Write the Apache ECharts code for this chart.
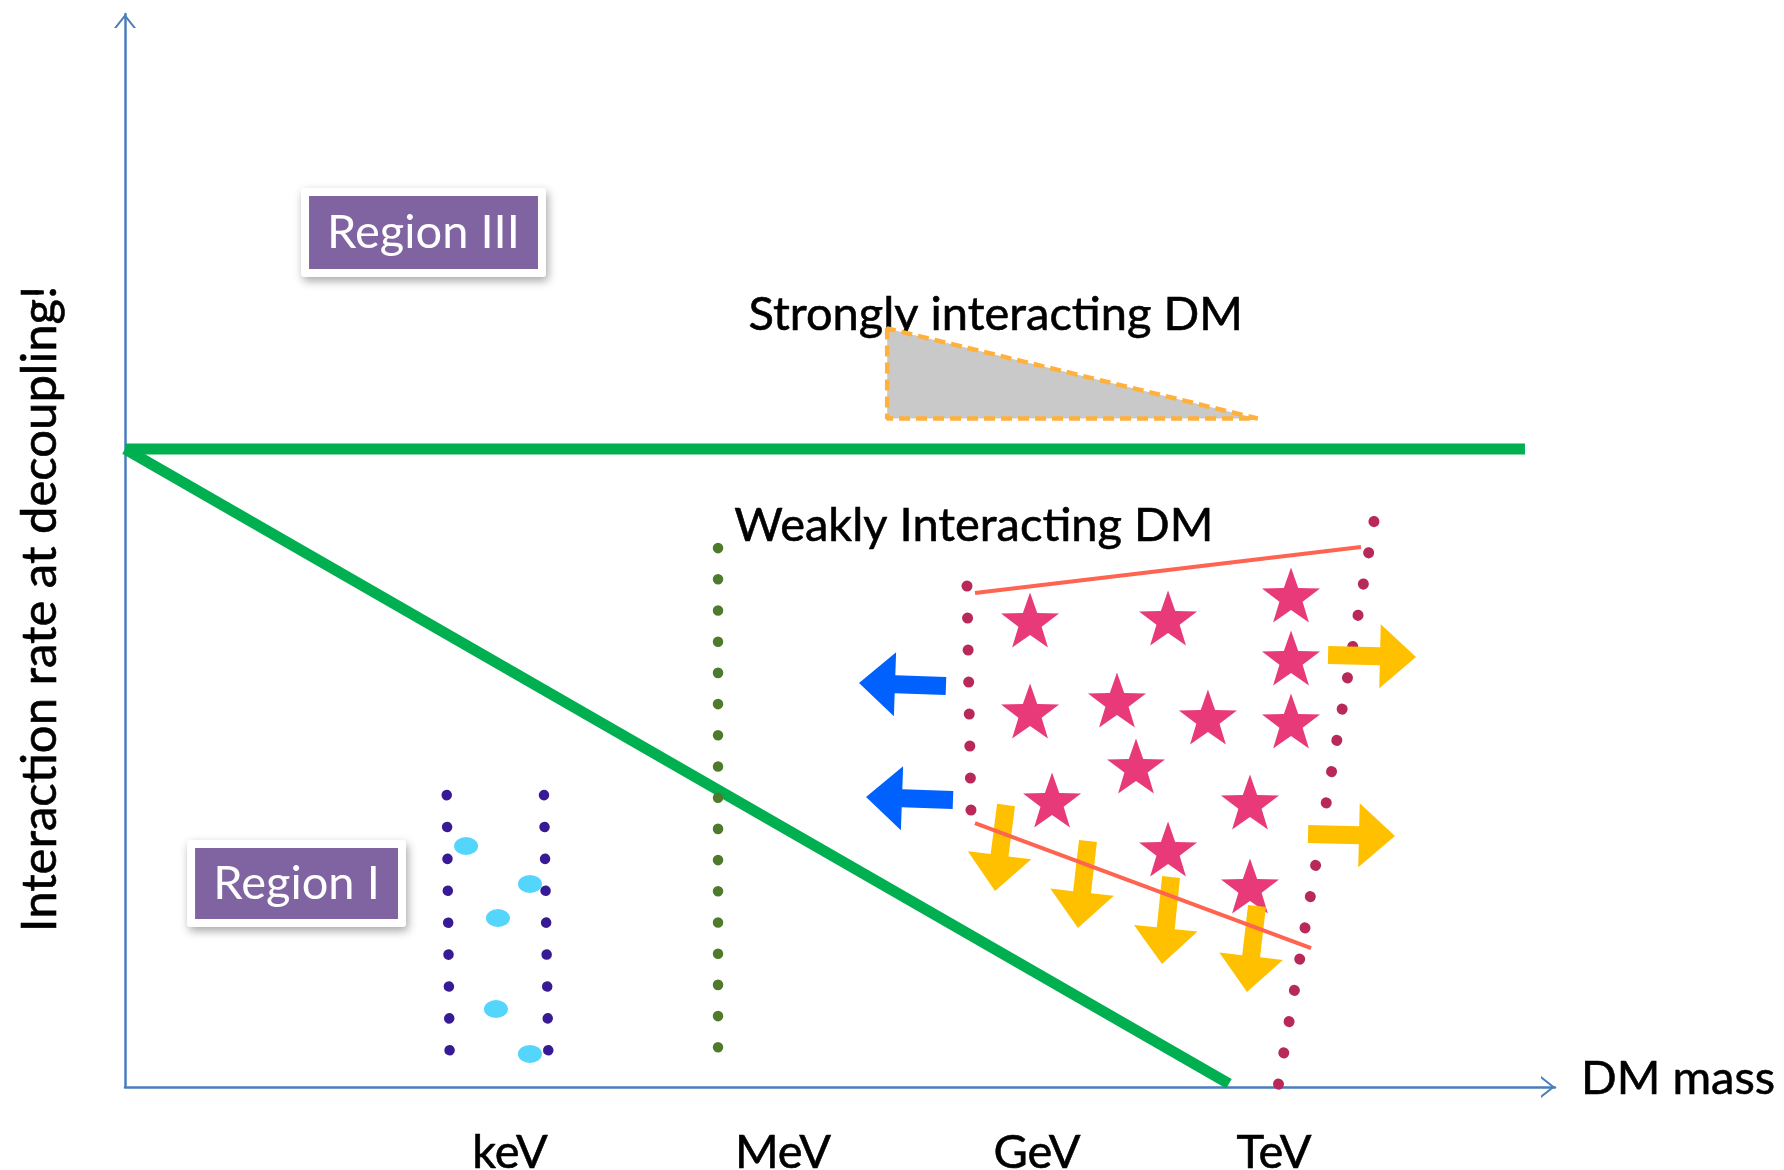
<!DOCTYPE html>
<html><head><meta charset="utf-8">
<script src="https://cdn.jsdelivr.net/npm/echarts@6/dist/echarts.min.js"></script>
<style>html,body{margin:0;padding:0;background:#fff}#c{width:1784px;height:1170px}</style>
</head><body><div id="c"></div>
<script>
// Schematic units: x = DM mass (0..100), y = interaction rate at decoupling (0..100)
const massTickValues = [26.92, 46.01, 63.78, 80.35];
const massTickLabels = ['keV', 'MeV', 'GeV', 'TeV'];

const horizontalBoundary = [[0, 59.46], [97.9, 59.46]];
const diagonalBoundary = [[0, 59.46], [77.2, 0.3]];

const strongTriangle = [53.3, 70.7, 53.3, 62.3, 79.2, 62.3];

const regionNames = ['Region III', 'Region I'];
const regionBoxes = [[12.87, 76.24, 28.88, 83.04], [4.90, 15.66, 19.09, 22.27]];

const textLabels = [
  { name: 'Strongly interacting DM', value: [43.6, 72.0] },
  { name: 'Weakly Interacting DM', value: [42.6, 52.3] }
];

// dotted boundary lines (end points)
const oliveDotted = [[41.47, 50.23], [41.47, 3.63]];
const indigoDottedLeft = [[22.5, 27.21], [22.7, 3.36]];
const indigoDottedRight = [[29.3, 27.21], [29.6, 3.36]];
const crimsonDottedLeft = [[58.88, 46.69], [59.16, 25.63]];
const crimsonDottedRight = [[87.34, 52.70], [80.63, 0.0]];

const cyanBlobs = [[23.85, 22.46], [28.32, 18.92], [26.08, 15.75], [25.94, 7.27], [28.32, 3.08]];

const stars = [
  [63.29, 43.52], [72.94, 43.71], [81.54, 45.85], [81.54, 39.98],
  [63.29, 35.04], [69.37, 36.07], [75.73, 34.48], [81.54, 34.11],
  [70.70, 29.92], [64.83, 26.75], [78.67, 26.56], [72.94, 22.18], [78.67, 18.73]
];

const upperRedLine = [[59.44, 46.04], [86.43, 50.33]];
const lowerRedLine = [[59.44, 24.60], [82.94, 12.95]];

// arrows: [tailX, tailY, tipX, tipY]
const blueArrows = [[57.41, 37.37, 51.33, 37.65], [57.90, 26.75, 51.82, 27.03]];
const yellowArrows = [
  [84.13, 40.26, 90.28, 40.07], [82.73, 23.58, 88.81, 23.39],
  [61.61, 26.28, 60.84, 18.27], [67.34, 22.93, 66.64, 14.82],
  [73.15, 19.57, 72.52, 11.46], [79.16, 16.87, 78.46, 8.85]
];

const FONT = 'Lato';
const FS = 47;
const STAR = 'path://M50 0 L61.76 33.82 L97.55 34.55 L69.02 56.18 L79.39 90.45 L50 70 L20.61 90.45 L30.98 56.18 L2.45 34.55 L38.24 33.82 Z';
const CHEVRON = 'path://M0 14 L11 0 L22 14 L19.5 14 L11 3.2 L2.5 14 Z';

function arrowRenderer(color) {
  return function (params, api) {
    const tail = api.coord([api.value(0), api.value(1)]);
    const tip = api.coord([api.value(2), api.value(3)]);
    const dx = tip[0] - tail[0], dy = tip[1] - tail[1];
    const len = Math.hypot(dx, dy);
    const ux = dx / len, uy = dy / len, nx = -uy, ny = ux;
    const sh = 9, hh = 32, hl = 36;
    const bx = tip[0] - ux * hl, by = tip[1] - uy * hl;
    return {
      type: 'polygon',
      shape: { points: [
        [tail[0] + nx * sh, tail[1] + ny * sh],
        [bx + nx * sh, by + ny * sh],
        [bx + nx * hh, by + ny * hh],
        tip,
        [bx - nx * hh, by - ny * hh],
        [bx - nx * sh, by - ny * sh],
        [tail[0] - nx * sh, tail[1] - ny * sh]
      ] },
      style: { fill: color }
    };
  };
}

function dotted(data, color, size, gap, z) {
  return {
    type: 'line', data: data, symbol: 'none', silent: true, clip: false, z: z,
    lineStyle: { color: color, width: size, type: [0.1, gap], cap: 'round' }
  };
}

const txt = { fontFamily: FONT, fontSize: FS, color: '#000', textBorderColor: '#000', textBorderWidth: 0.6 };

const chart = echarts.init(document.getElementById('c'), null, { renderer: 'canvas' });
chart.setOption({
  animation: false,
  backgroundColor: '#ffffff',
  grid: { left: 125, right: 229, top: 14, bottom: 83, containLabel: false, outerBoundsMode: 'none' },
  xAxis: {
    type: 'value', min: 0, max: 100,
    name: 'DM mass', nameLocation: 'end', nameGap: 26,
    nameTextStyle: Object.assign({}, txt, { verticalAlign: 'bottom', lineHeight: 16 }),
    axisLine: { show: true, lineStyle: { color: '#4a7ebb', width: 2.5 }, symbol: ['none', CHEVRON], symbolSize: [22, 14], symbolOffset: [0, -7] },
    axisTick: { show: false },
    splitLine: { show: false },
    axisLabel: Object.assign({}, txt, {
      show: true, customValues: massTickValues, margin: 42,
      formatter: function (v) {
        const i = massTickValues.findIndex(function (t) { return Math.abs(t - v) < 1e-6; });
        return i >= 0 ? massTickLabels[i] : '';
      }
    })
  },
  yAxis: {
    type: 'value', min: 0, max: 100,
    name: 'Interaction rate at decoupling!', nameLocation: 'middle', nameGap: 60, nameRotate: 90,
    nameTextStyle: Object.assign({}, txt, { fontSize: 49, padding: [0, 117, 0, 0] }),
    axisLine: { show: true, lineStyle: { color: '#4a7ebb', width: 2.5 }, symbol: ['none', CHEVRON], symbolSize: [22, 14], symbolOffset: [0, -7] },
    axisTick: { show: false },
    splitLine: { show: false },
    axisLabel: { show: false }
  },
  series: [
    { type: 'line', data: horizontalBoundary, symbol: 'none', clip: false, z: 2, lineStyle: { color: '#00b050', width: 11 } },
    { type: 'line', data: diagonalBoundary, symbol: 'none', clip: false, z: 2, lineStyle: { color: '#00b050', width: 11 } },
    dotted(oliveDotted, '#4e7b2b', 10.5, 31.1, 3),
    dotted(indigoDottedLeft, '#371a94', 10.5, 31.8, 3),
    dotted(indigoDottedRight, '#371a94', 10.5, 31.8, 3),
    dotted(crimsonDottedLeft, '#b8295a', 11, 31.9, 3),
    dotted(crimsonDottedRight, '#b8295a', 11, 31.6, 3),
    { type: 'scatter', data: cyanBlobs, symbol: 'circle', symbolSize: [24, 18], z: 4, itemStyle: { color: '#54d6fc', opacity: 1 } },
    { type: 'scatter', data: stars, symbol: STAR, symbolSize: [58, 55], z: 4, itemStyle: { color: '#e83a78', opacity: 1 } },
    { type: 'custom', data: blueArrows, encode: { x: [0, 2], y: [1, 3] }, z: 5, renderItem: arrowRenderer('#0061fe') },
    { type: 'custom', data: yellowArrows, encode: { x: [0, 2], y: [1, 3] }, z: 5, renderItem: arrowRenderer('#ffc000') },
    { type: 'line', data: upperRedLine, symbol: 'none', z: 6, lineStyle: { color: '#fe6450', width: 4 } },
    { type: 'line', data: lowerRedLine, symbol: 'none', z: 6, lineStyle: { color: '#fe6450', width: 4 } },
    {
      type: 'scatter', data: textLabels, symbolSize: 0, z: 7, itemStyle: { opacity: 1 },
      label: Object.assign({}, txt, { show: true, position: 'right', distance: 0, formatter: '{b}', opacity: 1 })
    },
    {
      type: 'custom', data: [strongTriangle], encode: { x: [0, 2, 4], y: [1, 3, 5] }, z: 8,
      renderItem: function (params, api) {
        const pts = [0, 2, 4].map(function (k) { return api.coord([api.value(k), api.value(k + 1)]); });
        return { type: 'polygon', shape: { points: pts },
          style: { fill: '#c9c9c9', stroke: '#ffb13b', lineWidth: 4.5, lineDash: [11, 6], lineJoin: 'bevel' } };
      }
    },
    {
      type: 'custom', data: regionBoxes, encode: { x: [0, 2], y: [1, 3] }, z: 9,
      renderItem: function (params, api) {
        const p0 = api.coord([api.value(0), api.value(3)]);
        const p1 = api.coord([api.value(2), api.value(1)]);
        const w = p1[0] - p0[0], h = p1[1] - p0[1];
        return { type: 'group', children: [
          { type: 'rect', shape: { x: p0[0] - 8, y: p0[1] - 8, width: w + 16, height: h + 16, r: 3 },
            style: { fill: '#fff', shadowBlur: 10, shadowColor: 'rgba(0,0,0,0.35)', shadowOffsetX: 2, shadowOffsetY: 4 } },
          { type: 'rect', shape: { x: p0[0], y: p0[1], width: w, height: h }, style: { fill: '#8064a2' } },
          { type: 'text', style: { x: p0[0] + w / 2, y: p0[1] + h / 2, text: regionNames[params.dataIndex],
            fill: '#fff', fontFamily: FONT, fontSize: FS, align: 'center', verticalAlign: 'middle',
            textAlign: 'center', textVerticalAlign: 'middle' } }
        ] };
      }
    }
  ]
});
</script>
</body></html>
